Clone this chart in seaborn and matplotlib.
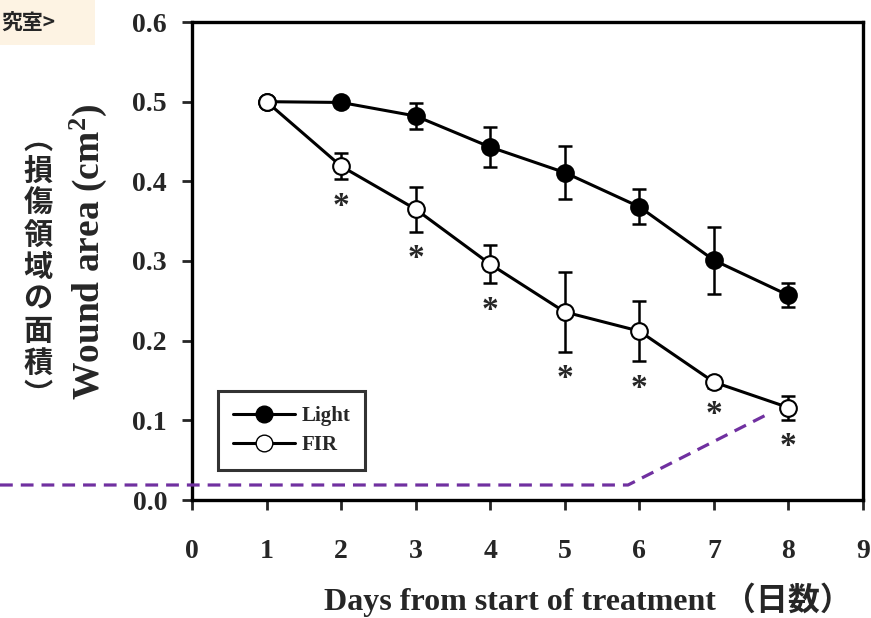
import numpy as np
import pandas as pd
import matplotlib
matplotlib.use("Agg")
import matplotlib.pyplot as plt
from matplotlib.lines import Line2D
from matplotlib.patches import Rectangle
import seaborn as sns

# data
days = [1, 2, 3, 4, 5, 6, 7, 8]
light_mean = [0.500, 0.499, 0.482, 0.443, 0.411, 0.368, 0.301, 0.257]
light_err = [0.0, 0.006, 0.016, 0.025, 0.033, 0.022, 0.042, 0.015]
fir_mean = [0.500, 0.419, 0.365, 0.296, 0.236, 0.212, 0.148, 0.116]
fir_err = [0.0, 0.016, 0.028, 0.024, 0.050, 0.038, 0.007, 0.015]
star_days = [2, 3, 4, 5, 6, 7, 8]

x_ticks = list(range(0, 10))
y_ticks = [0.0, 0.1, 0.2, 0.3, 0.4, 0.5, 0.6]

df = pd.DataFrame({"day": days, "Light": light_mean, "FIR": fir_mean})

sns.set_style("ticks")
serif = ["Liberation Serif", "Noto Sans CJK JP"]
cjk = ["Noto Sans CJK JP", "DejaVu Sans"]
plt.rcParams["font.family"] = serif
plt.rcParams["mathtext.fontset"] = "custom"
plt.rcParams["mathtext.rm"] = "Liberation Serif:bold"
plt.rcParams["mathtext.it"] = "Liberation Serif:bold"

fig = plt.figure(figsize=(8.71, 6.18), dpi=100)
ax = fig.add_axes([192 / 871, 118 / 618, 671 / 871, 478 / 618])

# error bars
ax.errorbar(days, light_mean, yerr=light_err, fmt="none", ecolor="black",
            elinewidth=1.8, capsize=5, capthick=1.8, zorder=2)
ax.errorbar(days, fir_mean, yerr=fir_err, fmt="none", ecolor="black",
            elinewidth=1.8, capsize=5, capthick=1.8, zorder=2)

# lines + markers
sns.lineplot(data=df, x="day", y="Light", ax=ax, color="black", linewidth=2.2,
             marker="o", markersize=12, markerfacecolor="black",
             markeredgecolor="black", markeredgewidth=1.5, zorder=3)
sns.lineplot(data=df, x="day", y="FIR", ax=ax, color="black", linewidth=2.2,
             marker="o", markersize=12, markerfacecolor="white",
             markeredgecolor="black", markeredgewidth=1.5, zorder=3)

# significance asterisks under FIR points
for d in star_days:
    i = days.index(d)
    ax.text(d, fir_mean[i] - fir_err[i] - 0.034, "*", ha="center", va="center",
            fontsize=24, fontweight="bold", family=serif)

ax.set_xlim(0, 9)
ax.set_ylim(0, 0.6)
ax.set_xticks(x_ticks)
ax.set_yticks(y_ticks)
ax.set_yticklabels([f"{v:.1f}" for v in y_ticks])
ax.set_xlabel("")
ax.set_ylabel("")
for lab in ax.get_xticklabels() + ax.get_yticklabels():
    lab.set_fontweight("bold")
    lab.set_fontsize(20)
ax.tick_params(axis="x", direction="out", length=7, width=2, pad=21)
ax.tick_params(axis="y", direction="out", length=7, width=2, pad=11)
for s in ax.spines.values():
    s.set_visible(True)
    s.set_linewidth(2.4)
    s.set_color("black")

# legend
handles = [
    Line2D([], [], color="black", linewidth=2.2, marker="o", markersize=12,
           markerfacecolor="black", markeredgecolor="black"),
    Line2D([], [], color="black", linewidth=2.2, marker="o", markersize=12,
           markerfacecolor="white", markeredgecolor="black"),
]
leg = ax.legend(handles, ["Light", "FIR"], loc="lower left",
                bbox_to_anchor=(0.039, 0.063), borderaxespad=0,
                prop={"family": serif, "weight": "bold", "size": 15},
                frameon=True, fancybox=False, edgecolor="black",
                handlelength=3.0, handletextpad=0.3, labelspacing=0.45,
                borderpad=0.7)
leg.get_frame().set_linewidth(2.2)

# axis titles
fig.text(88 / 871, 1 - 252 / 618, "Wound area (cm$^2$)", rotation=90,
         ha="center", va="center", fontsize=27, fontweight="bold",
         family=serif)
fig.text(38 / 871, 1 - 267 / 618, "\n".join("︵損傷領域の面積︶"),
         ha="center", va="center", fontsize=21, fontweight="bold",
         family=cjk, linespacing=1.08)
fig.text(588 / 871, 1 - 600 / 618, "Days from start of treatment （日数）",
         ha="center", va="center", fontsize=23, fontweight="bold",
         family=serif)

# top-left caption box
fig.add_artist(Rectangle((0, 1 - 45 / 618), 95 / 871, 45 / 618,
                         transform=fig.transFigure, facecolor="#fdf3e3",
                         edgecolor="none", zorder=0))
fig.text(0.002, 1 - 22 / 618, "究室>", ha="left", va="center",
         fontsize=15, fontweight="bold", family=cjk)

# purple dashed overlay line
fig.add_artist(Line2D([0, 628 / 871, 770 / 871],
                      [1 - 485 / 618, 1 - 485 / 618, 1 - 413 / 618],
                      transform=fig.transFigure, color="#7030a0",
                      linewidth=2.3, linestyle=(0, (4, 2.5)), zorder=10))

fig.savefig("out.png", dpi=100)
